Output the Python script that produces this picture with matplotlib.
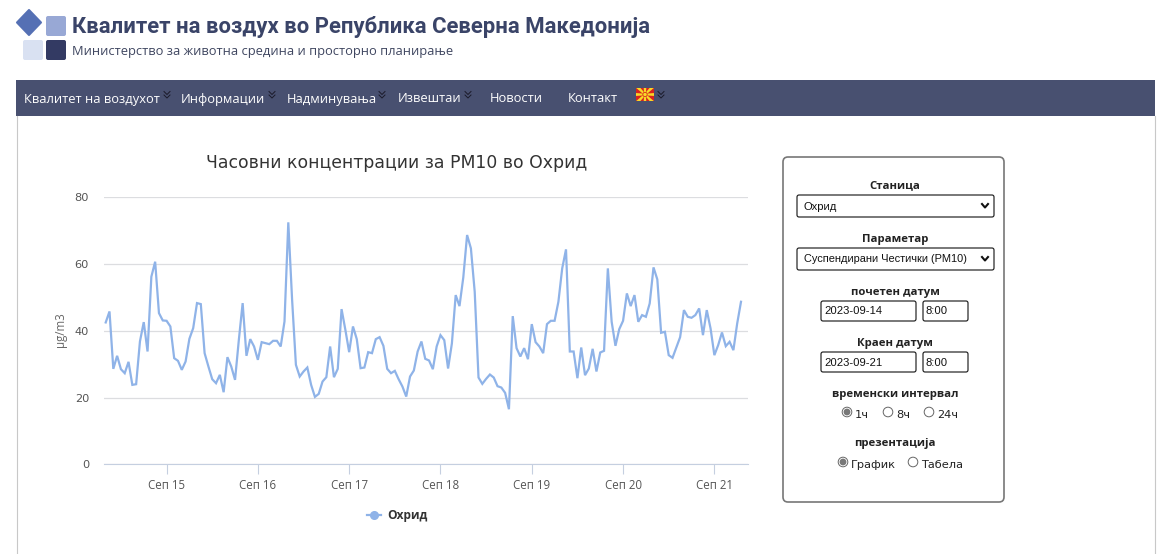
import matplotlib
matplotlib.use("Agg")
import matplotlib.pyplot as plt
from matplotlib.patches import FancyBboxPatch, Rectangle, Polygon, Circle
import numpy as np
import pandas as pd

W, H = 1170, 554

title = "Часовни концентрации за РМ10 во Охрид"
y_label = "µg/m3"
series_name = "Охрид"
y_ticks = [0, 20, 40, 60, 80]
tick_days = ["2023-09-15", "2023-09-16", "2023-09-17", "2023-09-18",
             "2023-09-19", "2023-09-20", "2023-09-21"]
tick_labels = ["Сеп 15", "Сеп 16", "Сеп 17", "Сеп 18", "Сеп 19", "Сеп 20", "Сеп 21"]

# hourly PM10, starts 14 Sep 08:00
pm10 = [
    42.5, 45.8, 28.6, 32.5, 28.5, 27.3, 30.7, 23.8, 24.0, 36.8, 42.6, 33.8,
    56.2, 60.7, 45.3, 43.1, 43.0, 41.3, 31.8, 31.0, 28.3, 30.8, 37.6, 40.8,
    48.3, 48.0, 33.3, 29.3, 25.5, 24.3, 26.8, 21.6, 32.1, 29.3, 25.3, 37.3,
    48.3, 32.5, 37.5, 35.3, 31.3, 36.6, 36.3, 36.0, 37.0, 37.0, 35.3, 42.8,
    72.5, 49.3, 29.8, 26.3, 27.8, 29.0, 23.8, 20.2, 21.1, 24.8, 26.1, 35.3,
    26.1, 28.6, 46.5, 40.3, 33.6, 41.3, 37.5, 28.8, 29.0, 33.6, 33.3, 37.5,
    38.1, 35.5, 28.6, 27.3, 28.0, 25.5, 23.3, 20.3, 26.3, 28.1, 33.8, 36.8,
    31.6, 31.1, 28.5, 35.3, 38.7, 37.2, 28.7, 36.2, 50.7, 47.4, 56.0, 68.7,
    64.7, 51.7, 26.0, 24.1, 25.6, 26.9, 26.0, 23.4, 23.0, 21.4, 16.5, 44.4,
    34.8, 32.3, 34.8, 31.5, 42.0, 36.6, 35.3, 33.3, 42.0, 43.0, 43.0, 48.7,
    58.7, 64.4, 33.8, 33.8, 25.8, 35.0, 26.7, 28.7, 34.6, 27.8, 33.5, 34.0,
    58.7, 42.7, 35.5, 40.5, 43.0, 51.2, 47.4, 50.7, 42.7, 44.7, 44.2, 48.2,
    59.0, 55.4, 39.4, 39.7, 32.7, 31.9, 35.0, 38.1, 46.2, 44.2, 43.9, 44.7,
    46.7, 38.7, 46.2, 40.7, 32.7, 35.7, 39.5, 35.4, 36.7, 34.2, 42.2, 48.7,
]
times = pd.date_range("2023-09-14 08:00", periods=len(pm10), freq="h")

page_title = "Квалитет на воздух во Република Северна Македонија"
page_subtitle = "Министерство за животна средина и просторно планирање"
menu_items = [("Квалитет на воздухот", 24), ("Информации", 181),
              ("Надминувања", 287), ("Извештаи", 398),
              ("Новости", 490), ("Контакт", 568)]
chevrons = [167, 272, 382, 468, 661]

plt.rcParams["font.family"] = ["Open Sans", "DejaVu Sans"]

fig = plt.figure(figsize=(W / 100, H / 100), dpi=100)

# page layer in pixel coordinates
page = fig.add_axes([0, 0, 1, 1])
page.set_xlim(0, W)
page.set_ylim(H, 0)
page.axis("off")


def rounded(x, y, w, h, r, fc, ec="none", lw=0):
    page.add_patch(FancyBboxPatch((x + r, y + r), w - 2 * r, h - 2 * r,
                                  boxstyle=f"round,pad={r}", fc=fc, ec=ec, lw=lw))


# logo
page.add_patch(Polygon([(29, 10), (41, 22.5), (29, 35), (17, 22.5)], fc="#5570b4", ec="#5570b4",
                       lw=1.5, joinstyle="round"))
rounded(46, 16, 20, 20, 2, "#98a8d5")
rounded(23, 40, 20, 20, 2, "#d9e1f2")
rounded(46, 40, 20, 20, 2, "#333a63")

page.text(72, 27, page_title, fontsize=15.9, fontweight="bold", family="Roboto", color="#3a4468",
          va="center", ha="left")
page.text(72, 51, page_subtitle, fontsize=9.3, color="#3f4660", va="center", ha="left")

# nav bar and content border
page.add_patch(Rectangle((16, 80), 1139, 36, fc="#485070", ec="none"))
page.plot([16.5, 16.5], [116, 554], color="#c8c8c8", lw=0.8)
page.plot([1154.5, 1154.5], [116, 554], color="#c8c8c8", lw=0.8)

for label_text, x in menu_items:
    page.text(x, 99, label_text, fontsize=9.3, color="white", va="center", ha="left")
for x in chevrons:
    for y in (93, 96.5):
        page.plot([x - 3, x, x + 3], [y - 1.5, y + 1.5, y - 1.5], color="#1a1a2a", lw=0.7)

# flag
flag = Rectangle((636, 88), 18, 13, fc="#d8231f", ec="none")
page.add_patch(flag)
cx, cy = 645, 94.5
for a in np.arange(0, 360, 45):
    t = np.deg2rad(a)
    n = t + np.pi / 2
    ray = Polygon([(cx + 0.8 * np.cos(n), cy + 0.8 * np.sin(n)),
                   (cx + 11 * np.cos(t) + 1.6 * np.cos(n), cy + 11 * np.sin(t) + 1.6 * np.sin(n)),
                   (cx + 11 * np.cos(t) - 1.6 * np.cos(n), cy + 11 * np.sin(t) - 1.6 * np.sin(n)),
                   (cx - 0.8 * np.cos(n), cy - 0.8 * np.sin(n))],
                  fc="#f8d928", ec="none")
    page.add_patch(ray)
    ray.set_clip_path(flag)
page.add_patch(Circle((cx, cy), 2.2, fc="#f8d928", ec="#d8231f", lw=0.6))

# control panel
rounded(783, 157, 221, 345, 5, "white", "#777777", 1.2)
cen = 895


def label(y, s):
    page.text(cen, y, s, fontsize=8.2, fontweight="bold", color="#222222", ha="center", va="center")


def box(x, y, w, h, s, arrow=False, size=8.1):
    rounded(x, y, w, h, 2, "white", "#111111", 0.8)
    page.text(x + 7 if arrow else x + 3, y + h / 2 + 0.5, s, fontsize=size,
              family="Liberation Sans", color="#111111", va="center", ha="left")
    if arrow:
        ax_, ay = x + w - 9, y + h / 2
        page.plot([ax_ - 3, ax_, ax_ + 3], [ay - 2, ay + 1.5, ay - 2], color="#111111", lw=1.5)


def radio(x, y, on, s):
    page.add_patch(Circle((x, y), 4.8, fc="white", ec="#666666", lw=0.7))
    if on:
        page.add_patch(Circle((x, y), 3.4, fc="#777777", ec="none"))
    page.text(x + 8, y + 2.5, s, fontsize=8.2, family="DejaVu Sans", color="#222222", va="center", ha="left")


label(186, "Станица")
box(797, 195, 197, 22, "Охрид", True)
label(239.5, "Параметар")
box(797, 248, 197, 22, "Суспендирани Честички (РМ10)", True, size=7.95)
label(292.5, "почетен датум")
box(821, 301, 95, 20, "2023-09-14")
box(923, 301, 45, 20, "8:00")
label(343.5, "Краен датум")
box(821, 352, 95, 20, "2023-09-21")
box(923, 352, 45, 20, "8:00")
label(394.5, "временски интервал")
radio(847, 412, True, "1ч")
radio(888, 412, False, "8ч")
radio(929, 412, False, "24ч")
label(443.5, "презентација")
radio(843, 462, True, "График")
radio(913, 462, False, "Табела")

# chart
ax = fig.add_axes([103.7 / W, 1 - 464.3 / H, (747.7 - 103.7) / W, (464.3 - 197.3) / H])
ax.patch.set_alpha(0)
ax.plot(times, pm10, color="#8fb3e8", lw=1.6, solid_joinstyle="miter", label=series_name)
px_per_hour = 3.804
ax.set_xlim(times[0] - pd.Timedelta(hours=(105.7 - 103.7) / px_per_hour),
            times[-1] + pd.Timedelta(hours=(747.7 - 741) / px_per_hour))
ax.set_ylim(0, 80)
ax.set_yticks(y_ticks)
ax.set_xticks(pd.to_datetime(tick_days))
ax.set_xticklabels(tick_labels)
ax.grid(axis="y", color="#dcdde0", lw=0.9)
ax.set_axisbelow(True)
for side in ("top", "right", "left"):
    ax.spines[side].set_visible(False)
ax.spines["bottom"].set_color("#c5cfe0")
ax.tick_params(axis="y", length=0, pad=10.5, labelsize=8.2, labelcolor="#555555")
ax.tick_params(axis="x", length=7, width=0.8, color="#c5cfe0", pad=3.5, labelsize=8.3, labelcolor="#555555")
for t in ax.get_yticklabels():
    t.set_family("DejaVu Sans")

page.text(396.5, 163.5, title, fontsize=12.45, family="DejaVu Sans", color="#333333", ha="center", va="center")
page.text(61, 330, y_label, fontsize=8.3, color="#666666", rotation=90, ha="center", va="center")

# legend
page.plot([367, 381], [515, 515], color="#8fb3e8", lw=1.6)
page.plot([374], [515], "o", color="#8fb3e8", ms=5.5)
page.text(387, 515, series_name, fontsize=8.6, fontweight="bold", color="#333333", va="center", ha="left")

fig.savefig("out.png", dpi=100)
